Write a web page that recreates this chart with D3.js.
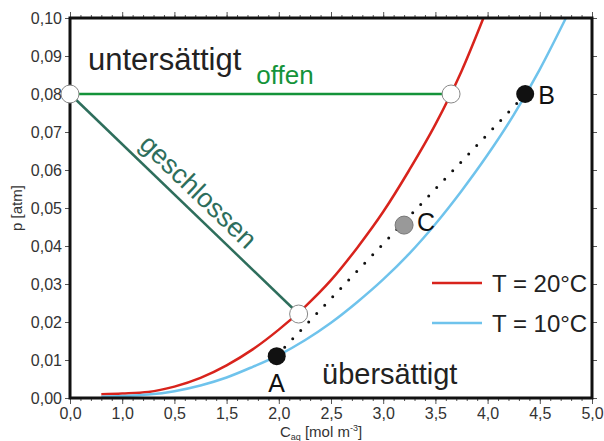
<!DOCTYPE html>
<html>
<head>
<meta charset="utf-8">
<script src="https://cdnjs.cloudflare.com/ajax/libs/d3/7.8.5/d3.min.js"></script>
<style>
  body { margin: 0; background: #fff; }
  text { font-family: "Liberation Sans", Arial, sans-serif; }
</style>
</head>
<body>
<svg></svg>
<script>
// curve data
const c20 = [0.30, 0.50, 0.75, 1.00, 1.25, 1.50, 1.75, 2.00, 2.25, 2.50, 2.75, 3.00, 3.25, 3.50, 3.75, 3.96];
const p20 = [0.0010, 0.0012, 0.0016, 0.0030, 0.0053, 0.0086, 0.0128, 0.0180, 0.0240, 0.0310, 0.0395, 0.0490, 0.0600, 0.0720, 0.0860, 0.1000];
const c10 = [0.30, 0.50, 0.75, 1.00, 1.25, 1.50, 1.75, 2.00, 2.25, 2.50, 2.75, 3.00, 3.25, 3.50, 3.75, 4.00, 4.25, 4.50, 4.75];
const p10 = [0.0003, 0.0005, 0.0009, 0.0018, 0.0033, 0.0054, 0.0082, 0.0113, 0.0152, 0.0198, 0.0252, 0.0312, 0.0380, 0.0458, 0.0545, 0.0640, 0.0745, 0.0865, 0.1000];

// special points
const openPts = [[0, 0.08], [3.65, 0.08], [2.19, 0.0221]];
const ptA = [1.98, 0.011];
const ptB = [4.36, 0.080];
const ptC = [3.20, 0.0455];

const xTickLabels = ["0,0", "1,0", "0,5", "1,5", "2,0", "2,5", "3,0", "3,5", "4,0", "4,5", "5,0"];
const yTicks = [0, 0.01, 0.02, 0.03, 0.04, 0.05, 0.06, 0.07, 0.08, 0.09, 0.10];

const svgWidth = 604, svgHeight = 441;
const margin = {top: 18, right: 12, bottom: 43, left: 70};
const width = svgWidth - margin.left - margin.right;
const height = svgHeight - margin.top - margin.bottom;

const svg = d3.select("svg").attr("width", svgWidth).attr("height", svgHeight);
const g = svg.append("g").attr("transform", "translate(" + margin.left + "," + margin.top + ")");

const x = d3.scaleLinear().domain([0, 5]).range([0, width]);
const y = d3.scaleLinear().domain([0, 0.10]).range([height, 0]);

const majorX = d3.range(0, 5.001, 0.5);
const minorX = d3.range(0, 5.001, 0.1);

// minor ticks bottom and top
g.append("g").attr("transform", "translate(0," + height + ")")
  .call(d3.axisBottom(x).tickValues(minorX).tickSize(3).tickFormat(""))
  .call(a => a.select(".domain").remove());
g.append("g")
  .call(d3.axisTop(x).tickValues(minorX).tickSize(3).tickFormat(""))
  .call(a => a.select(".domain").remove());
g.append("g")
  .call(d3.axisTop(x).tickValues(majorX).tickSize(6).tickFormat(""))
  .call(a => a.select(".domain").remove());

// major bottom with labels
g.append("g").attr("transform", "translate(0," + height + ")")
  .call(d3.axisBottom(x).tickValues(majorX).tickSize(6).tickPadding(4)
    .tickFormat((d, i) => xTickLabels[i]))
  .call(a => a.select(".domain").remove())
  .call(a => a.selectAll("text").attr("font-size", 16).attr("fill", "#333"));

g.append("g")
  .call(d3.axisLeft(y).tickValues(yTicks).tickSize(5).tickPadding(3)
    .tickFormat(d => d3.format(".2f")(d).replace(".", ",")))
  .call(a => a.select(".domain").remove())
  .call(a => a.selectAll("text").attr("font-size", 16).attr("fill", "#333"));
g.append("g").attr("transform", "translate(" + width + ",0)")
  .call(d3.axisRight(y).tickValues(yTicks).tickSize(5).tickFormat(""))
  .call(a => a.select(".domain").remove());

svg.selectAll(".tick line").attr("stroke", "#555");

// curves
const line = d3.line().x(d => x(d[0])).y(d => y(d[1])).curve(d3.curveMonotoneX);
g.append("path").datum(c20.map((c, i) => [c, p20[i]]))
  .attr("d", line).attr("fill", "none").attr("stroke", "#d8231c").attr("stroke-width", 2.5);
g.append("path").datum(c10.map((c, i) => [c, p10[i]]))
  .attr("d", line).attr("fill", "none").attr("stroke", "#6fc3ec").attr("stroke-width", 2.5);

// offen / geschlossen lines
g.append("line")
  .attr("x1", x(openPts[0][0])).attr("y1", y(openPts[0][1]))
  .attr("x2", x(openPts[1][0])).attr("y2", y(openPts[1][1]))
  .attr("stroke", "#14933a").attr("stroke-width", 2.5);
g.append("line")
  .attr("x1", x(openPts[0][0])).attr("y1", y(openPts[0][1]))
  .attr("x2", x(openPts[2][0])).attr("y2", y(openPts[2][1]))
  .attr("stroke", "#2e6e5c").attr("stroke-width", 2.5);

// dotted A-B
g.append("line")
  .attr("x1", x(ptA[0]) + 8).attr("y1", y(ptA[1]) - 9)
  .attr("x2", x(ptB[0]) - 6).attr("y2", y(ptB[1]) + 7)
  .attr("stroke", "#111").attr("stroke-width", 3)
  .attr("stroke-linecap", "round").attr("stroke-dasharray", "0,11.6");

// frame
g.append("rect").attr("width", width).attr("height", height)
  .attr("fill", "none").attr("stroke", "#111").attr("stroke-width", 3);

// circles
g.selectAll(".open").data(openPts).enter().append("circle")
  .attr("cx", d => x(d[0])).attr("cy", d => y(d[1])).attr("r", 9)
  .attr("fill", "#fff").attr("stroke", "#888").attr("stroke-width", 1);
g.append("circle").attr("cx", x(ptA[0])).attr("cy", y(ptA[1])).attr("r", 9).attr("fill", "#111");
g.append("circle").attr("cx", x(ptB[0])).attr("cy", y(ptB[1])).attr("r", 9).attr("fill", "#111");
g.append("circle").attr("cx", x(ptC[0])).attr("cy", y(ptC[1])).attr("r", 9)
  .attr("fill", "#999").attr("stroke", "#777").attr("stroke-width", 1);

// point labels
g.append("text").attr("x", x(ptA[0])).attr("y", y(ptA[1]) + 36).attr("text-anchor", "middle")
  .attr("font-size", 25).attr("fill", "#111").text("A");
g.append("text").attr("x", x(ptB[0]) + 13).attr("y", y(ptB[1]) + 10)
  .attr("font-size", 25).attr("fill", "#111").text("B");
g.append("text").attr("x", x(ptC[0]) + 13).attr("y", y(ptC[1]) + 6)
  .attr("font-size", 25).attr("fill", "#111").text("C");

// region labels
g.append("text").attr("x", 18).attr("y", 52).attr("font-size", 31).attr("fill", "#222").text("untersättigt");
g.append("text").attr("x", 252).attr("y", 366).attr("font-size", 29).attr("fill", "#222").text("übersättigt");
g.append("text").attr("x", 215).attr("y", 66).attr("text-anchor", "middle")
  .attr("font-size", 26).attr("fill", "#14933a").text("offen");
const ang = Math.atan2(y(openPts[2][1]) - y(openPts[0][1]), x(openPts[2][0]) - x(openPts[0][0])) * 180 / Math.PI;
g.append("text").attr("transform", "translate(122,180) rotate(" + ang + ")")
  .attr("text-anchor", "middle").attr("font-size", 27).attr("fill", "#2e6e5c").text("geschlossen");

// legend
const legend = [["T = 20°C", "#d8231c"], ["T = 10°C", "#6fc3ec"]];
const lg = g.append("g").attr("transform", "translate(362,265)");
legend.forEach((d, i) => {
  lg.append("line").attr("x1", 0).attr("x2", 50).attr("y1", i * 40).attr("y2", i * 40)
    .attr("stroke", d[1]).attr("stroke-width", 2.5);
  lg.append("text").attr("x", 60).attr("y", i * 40 + 9).attr("font-size", 24).attr("fill", "#222").text(d[0]);
});

// axis titles
svg.append("text").attr("transform", "translate(22," + (margin.top + height / 2) + ") rotate(-90)")
  .attr("text-anchor", "middle").attr("font-size", 15).attr("fill", "#333").text("p [atm]");
const xt = svg.append("text").attr("x", margin.left + width / 2 - 10).attr("y", 437)
  .attr("text-anchor", "middle").attr("font-size", 15).attr("fill", "#333");
xt.append("tspan").text("C");
xt.append("tspan").attr("font-size", 9).attr("dy", 3).text("aq");
xt.append("tspan").attr("dy", -3).text(" [mol m");
xt.append("tspan").attr("font-size", 9).attr("dy", -6).text("-3");
xt.append("tspan").attr("dy", 6).text("]");
</script>
</body>
</html>
